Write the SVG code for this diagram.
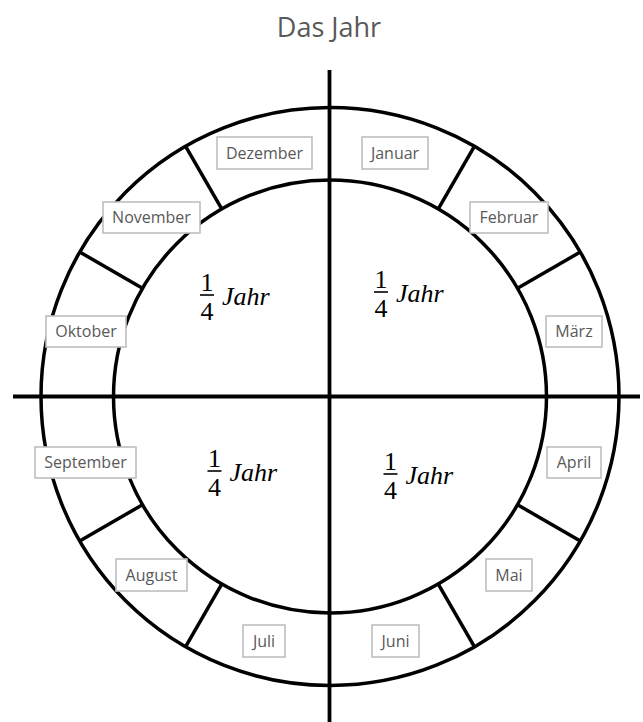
<svg xmlns="http://www.w3.org/2000/svg" width="643" height="722" viewBox="0 0 643 722">
<style>
.ln{stroke:#000;stroke-width:3.5;fill:none}
.ax{stroke:#000;stroke-width:3.8;fill:none}
.box{fill:#fff;stroke:#bfbfbf;stroke-width:1.6}
.lbl{font-family:"Open Sans","Liberation Sans",Arial,sans-serif;font-size:16px;fill:#595959;text-anchor:middle}
.title{font-family:"Open Sans","Liberation Sans",Arial,sans-serif;font-size:27px;fill:#595959;text-anchor:middle}
.num{font-family:"Liberation Serif","Times New Roman",serif;font-size:26px;fill:#000;text-anchor:middle}
.jahr{font-family:"Liberation Serif","Times New Roman",serif;font-size:26px;font-style:italic;fill:#000}
.bar{stroke:#000;stroke-width:1.6}
</style>
<defs>
<g id="frac">
<text class="num" x="207" y="291">1</text>
<line class="bar" x1="200" y1="295" x2="214" y2="295"/>
<text class="num" x="207" y="320">4</text>
<text class="jahr" x="222" y="305">Jahr</text>
</g>
</defs>
<text id="title" class="title" x="329" y="37">Das Jahr</text>
<g id="connectors">
<circle class="ln" cx="330" cy="396.5" r="289"/>
<circle class="ln" cx="330" cy="396.5" r="216.5"/>
<line class="ax" x1="329.5" y1="70" x2="329.5" y2="722"/>
<line class="ax" x1="13" y1="396.5" x2="640" y2="396.5"/>
<line class="ln" x1="438" y1="209.4" x2="474.5" y2="146.2"/>
<line class="ln" x1="517.1" y1="288.5" x2="580.3" y2="252"/>
<line class="ln" x1="517.1" y1="504.5" x2="580.3" y2="541"/>
<line class="ln" x1="438" y1="583.6" x2="474.5" y2="646.8"/>
<line class="ln" x1="222" y1="583.6" x2="185.5" y2="646.8"/>
<line class="ln" x1="142.9" y1="504.5" x2="79.7" y2="541"/>
<line class="ln" x1="142.9" y1="288.5" x2="79.7" y2="252"/>
<line class="ln" x1="222" y1="209.4" x2="185.5" y2="146.2"/>
</g>
<g id="q1"><use href="#frac" transform="translate(174,-3)"/></g>
<g id="q2"><use href="#frac"/></g>
<g id="q3"><use href="#frac" transform="translate(7.5,176)"/></g>
<g id="q4"><use href="#frac" transform="translate(183.5,179)"/></g>
<g id="januar"><rect class="box" x="362" y="137" width="66" height="32"/><text class="lbl" x="395" y="158.5">Januar</text></g>
<g id="februar"><rect class="box" x="470" y="202" width="78" height="31"/><text class="lbl" x="509" y="223">Februar</text></g>
<g id="maerz"><rect class="box" x="546" y="316" width="56" height="31"/><text class="lbl" x="574" y="337">März</text></g>
<g id="april"><rect class="box" x="547" y="447" width="54" height="31"/><text class="lbl" x="574" y="468">April</text></g>
<g id="mai"><rect class="box" x="486" y="559" width="46" height="32"/><text class="lbl" x="509" y="580.5">Mai</text></g>
<g id="juni"><rect class="box" x="372" y="625" width="47" height="32"/><text class="lbl" x="395.5" y="646.5">Juni</text></g>
<g id="juli"><rect class="box" x="243" y="625" width="42" height="32"/><text class="lbl" x="264" y="646.5">Juli</text></g>
<g id="august"><rect class="box" x="116" y="559" width="71" height="32"/><text class="lbl" x="151.5" y="580.5">August</text></g>
<g id="september"><rect class="box" x="35" y="447" width="101" height="31"/><text class="lbl" x="85.5" y="468">September</text></g>
<g id="oktober"><rect class="box" x="46" y="316" width="80" height="31"/><text class="lbl" x="86" y="337">Oktober</text></g>
<g id="november"><rect class="box" x="103" y="202" width="97" height="31"/><text class="lbl" x="151.5" y="223">November</text></g>
<g id="dezember"><rect class="box" x="217" y="137" width="95" height="32"/><text class="lbl" x="264.5" y="158.5">Dezember</text></g>
</svg>
